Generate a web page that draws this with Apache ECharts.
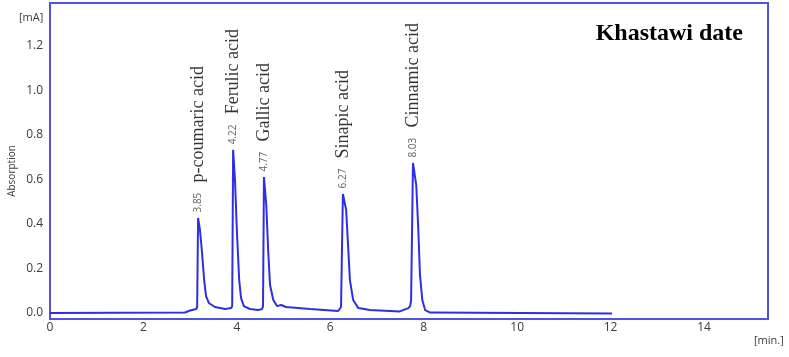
<!DOCTYPE html>
<html lang="en">
	<head>
		<meta charset="utf-8" />
		<title>Khastawi date chromatogram</title>
		<style>
			html, body { margin: 0; padding: 0; background: #fff; }
		</style>
	</head>
	<body>
		<div id="main" style="width: 789px; height: 357px;"></div>

		<script src="https://cdn.jsdelivr.net/npm/echarts@6/dist/echarts.min.js"></script>
		<script type="text/javascript">
			// trace, in axis units (min / mA)
			const traceTime = [
				0, 2.89, 3.0, 3.13, 3.15, 3.17, 3.21, 3.25, 3.3, 3.34, 3.4, 3.53, 3.75,
				3.88, 3.9, 3.92, 3.96, 4.0, 4.05, 4.09, 4.15, 4.28, 4.45,
				4.54, 4.56, 4.58, 4.63, 4.67, 4.71, 4.78, 4.86, 4.95, 5.05, 5.57,
				6.17, 6.23, 6.27, 6.34, 6.38, 6.42, 6.49, 6.6, 6.85, 7.49,
				7.67, 7.71, 7.73, 7.77, 7.84, 7.88, 7.92, 7.97, 8.03, 8.14, 12.03
			];
			const traceAbs = [
				0, 0.002, 0.011, 0.018, 0.027, 0.427, 0.373, 0.283, 0.148, 0.076, 0.045, 0.027, 0.018,
				0.022, 0.031, 0.733, 0.598, 0.373, 0.148, 0.067, 0.031, 0.018, 0.013,
				0.018, 0.031, 0.611, 0.485, 0.283, 0.126, 0.058, 0.031, 0.036, 0.027, 0.018,
				0.009, 0.027, 0.535, 0.463, 0.306, 0.148, 0.058, 0.022, 0.013, 0.007,
				0.022, 0.031, 0.058, 0.674, 0.575, 0.396, 0.171, 0.058, 0.013, 0.002, -0.002
			];

			// peak apexes and their annotations
			const peakTime = [3.17, 3.92, 4.58, 6.27, 7.77];
			const peakAbs = [0.427, 0.733, 0.611, 0.535, 0.674];
			const peakRt = ['3.85', '4.22', '4.77', '6.27', '8.03'];
			const peakName = ['p-coumaric acid', 'Ferulic acid', 'Gallic acid', 'Sinapic acid', 'Cinnamic acid'];

			const xTicks = [0, 2, 4, 6, 8, 10, 12, 14];
			const yTicks = [0, 0.2, 0.4, 0.6, 0.8, 1.0, 1.2];

			const blue = '#2e2ee6';
			const tickFont = { fontFamily: 'Open Sans', fontSize: 12, color: '#3a3a3a' };

			const chart = echarts.init(document.getElementById('main'));

			const trace = traceTime.map((t, i) => [t, traceAbs[i]]);
			const peaks = peakTime.map((t, i) => [t, peakAbs[i], peakRt[i], peakName[i]]);

			chart.setOption({
				animation: false,
				title: {
					text: 'Khastawi date',
					right: 46,
					top: 22,
					padding: 0,
					textStyle: { fontFamily: 'Liberation Serif', fontWeight: 'bold', fontSize: 24, color: '#000' },
				},
				grid: {
					left: 50, right: 21, top: 3, bottom: 38,
					show: true, borderColor: '#5252e0', borderWidth: 2,
				},
				xAxis: {
					type: 'value', min: 0, max: 15.37,
					axisLine: { show: false }, axisTick: { show: false }, splitLine: { show: false },
					axisLabel: Object.assign({ customValues: xTicks, margin: 3 }, tickFont),
				},
				yAxis: {
					type: 'value', min: -0.027, max: 1.393,
					axisLine: { show: false }, axisTick: { show: false }, splitLine: { show: false },
					axisLabel: Object.assign({ customValues: yTicks, margin: 7, formatter: (v) => v.toFixed(1) }, tickFont),
				},
				graphic: [
					{ type: 'text', left: 19, top: 12, style: { text: '[mA]', font: '11px "Open Sans"', fill: '#3a3a3a' } },
					{ type: 'text', left: 754, top: 335, style: { text: '[min.]', font: '11px "Open Sans"', fill: '#3a3a3a' } },
					{ type: 'text', x: 12, y: 171, rotation: Math.PI / 2,
						style: { text: 'Absorption', font: '10px "Open Sans"', fill: '#3a3a3a', align: 'center', verticalAlign: 'middle' } },
				],
				series: [
					{
						type: 'line', data: trace, showSymbol: false, silent: true,
						lineStyle: { color: blue, width: 2 },
					},
					{
						type: 'scatter', data: peaks, symbolSize: 1, silent: true,
						itemStyle: { color: 'rgba(0,0,0,0)' },
						label: {
							show: true, position: 'top', distance: 5, rotate: 90, align: 'left', verticalAlign: 'middle',
							formatter: (p) => p.data[2],
							fontFamily: 'Open Sans', fontSize: 10, color: '#3a3a3a',
						},
					},
					{
						type: 'scatter', data: peaks, symbolSize: 1, silent: true,
						itemStyle: { color: 'rgba(0,0,0,0)' },
						label: {
							show: true, position: 'top', distance: 35, rotate: 90, align: 'left', verticalAlign: 'middle',
							formatter: (p) => p.data[3],
							fontFamily: 'Liberation Serif', fontSize: 18, color: '#000',
						},
					},
				],
			});
		</script>
	</body>
</html>
